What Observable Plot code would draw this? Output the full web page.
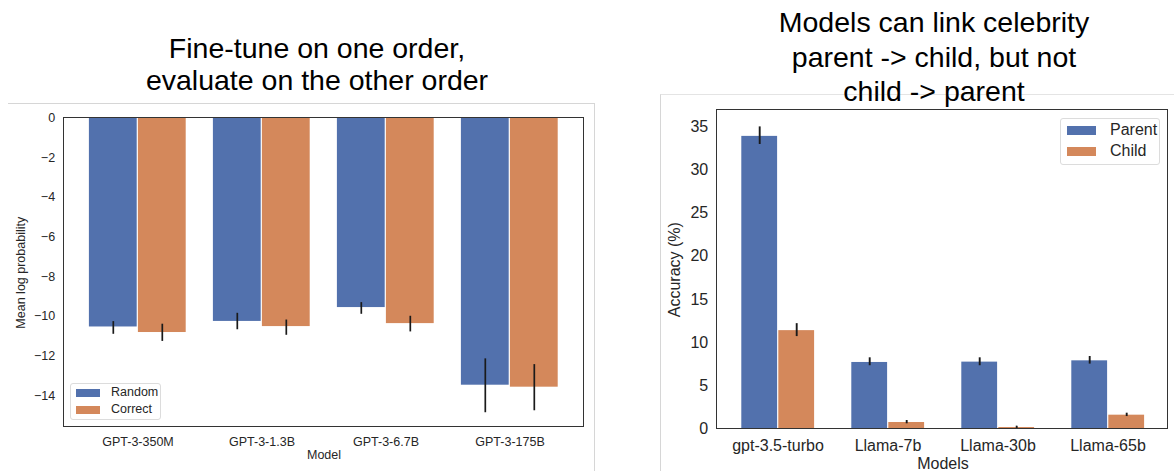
<!DOCTYPE html>
<html><head><meta charset="utf-8">
<script src="https://cdn.jsdelivr.net/npm/d3@7"></script>
<script src="https://cdn.jsdelivr.net/npm/@observablehq/plot@0.6"></script>
<style>
body{margin:0;background:#fff;font-family:"Liberation Sans",Arial,sans-serif;}
#root{position:relative;width:1174px;height:471px;overflow:hidden;background:#fff;}
.abs{position:absolute;}
.title{position:absolute;text-align:center;font-size:28.5px;color:#000;white-space:nowrap;}
.legend{position:absolute;box-sizing:border-box;border:1px solid #dcdcdc;border-radius:3px;background:rgba(255,255,255,0.85);}
.legend .sw{position:absolute;}
.legend .lt{position:absolute;color:#262626;white-space:nowrap;line-height:1;}
.frame{position:absolute;box-sizing:border-box;border:1.3px solid #333;pointer-events:none;}
</style></head><body><div id="root"></div>
<script>
// ---- Left chart data ----
const leftModels = ["GPT-3-350M", "GPT-3-1.3B", "GPT-3-6.7B", "GPT-3-175B"];
const leftSeries = ["Random", "Correct"];
const randomMean = [-10.54, -10.26, -9.56, -13.48];
const randomLo   = [-10.91, -10.68, -9.90, -14.87];
const randomHi   = [-10.27, -9.85, -9.31, -12.15];
const correctMean = [-10.82, -10.52, -10.37, -13.58];
const correctLo   = [-11.27, -10.96, -10.79, -14.77];
const correctHi   = [-10.40, -10.19, -10.00, -12.44];
const leftTicks = [0, -2, -4, -6, -8, -10, -12, -14];

// ---- Right chart data ----
const rightModels = ["gpt-3.5-turbo", "Llama-7b", "Llama-30b", "Llama-65b"];
const rightSeries = ["Parent", "Child"];
const parentAcc = [33.9, 7.69, 7.73, 7.88];
const parentLo  = [32.96, 7.31, 7.31, 7.50];
const parentHi  = [35.0, 8.23, 8.23, 8.38];
const childAcc  = [11.38, 0.73, 0.15, 1.58];
const childLo   = [10.69, 0.58, 0.04, 1.42];
const childHi   = [12.19, 0.96, 0.31, 1.81];
const rightTicks = [0, 5, 10, 15, 20, 25, 30, 35];

const BLUE = "#5271ad", ORANGE = "#d4885b";

const leftData = [];
leftModels.forEach((m, i) => {
  leftData.push({model: m, series: "Random", value: randomMean[i], lo: randomLo[i], hi: randomHi[i]});
  leftData.push({model: m, series: "Correct", value: correctMean[i], lo: correctLo[i], hi: correctHi[i]});
});
const rightData = [];
rightModels.forEach((m, i) => {
  rightData.push({model: m, series: "Parent", value: parentAcc[i], lo: parentLo[i], hi: parentHi[i]});
  rightData.push({model: m, series: "Child", value: childAcc[i], lo: childLo[i], hi: childHi[i]});
});

const root = document.getElementById("root");
function place(el, x, y) { el.style.position = "absolute"; el.style.left = x + "px"; el.style.top = y + "px"; root.appendChild(el); return el; }
function div(cls, css, html) { const d = document.createElement("div"); if (cls) d.className = cls; Object.assign(d.style, css); if (html != null) d.innerHTML = html; root.appendChild(d); return d; }
function frameBox(x0, y0, x1, y1) {
  div("frame", {left: (x0 - 0.65) + "px", top: (y0 - 0.65) + "px", width: (x1 - x0 + 1.3) + "px", height: (y1 - y0 + 1.3) + "px"});
}

// outer light boxes
div("abs", {left: "8px", top: "103px", width: "586px", height: "400px", borderTop: "1px solid #d6d6d6", borderRight: "1px solid #d6d6d6"});
div("abs", {left: "660px", top: "94px", width: "530px", height: "400px", borderTop: "1px solid #e4e4e4", borderLeft: "1px solid #d6d6d6"});

// ---- Left plot ----
// axes frame (drawn box) and facet extent (bars) in page pixels
const LF = {x0: 63.3, x1: 583, y0: 117.7, y1: 426.7};
const LG = {x0: 87.7, x1: 559};
const L = {x: 0, y: 95, w: 600, h: 376};
const left = Plot.plot({
  width: L.w, height: L.h,
  marginLeft: LG.x0 - L.x, marginRight: L.x + L.w - LG.x1, marginTop: LF.y0 - L.y, marginBottom: L.y + L.h - LF.y1,
  style: {fontFamily: "Liberation Sans, Arial, sans-serif", fontSize: "12.5px", color: "#262626", background: "transparent"},
  fx: {domain: leftModels, paddingInner: 0.2, paddingOuter: 0, axis: "bottom", label: "Model", labelAnchor: "center", labelOffset: 32, tickSize: 0, tickPadding: 10},
  x: {domain: leftSeries, axis: null, padding: 0},
  y: {domain: [-15.6, 0], ticks: leftTicks, tickSize: 0, tickPadding: 9 + (LG.x0 - LF.x0), label: "Mean log probability", labelArrow: "none", labelAnchor: "center", labelOffset: 72},
  color: {domain: leftSeries, range: [BLUE, ORANGE]},
  marks: [
    Plot.barY(leftData, {fx: "model", x: "series", y: "value", fill: "series", insetLeft: 0.6, insetRight: 0.6}),
    Plot.ruleX(leftData, {fx: "model", x: "series", y1: "lo", y2: "hi", stroke: "#1a1a1a", strokeWidth: 1.7})
  ]
});
place(left, L.x, L.y);
frameBox(LF.x0, LF.y0, LF.x1, LF.y1);

// ---- Right plot ----
const RF = {x0: 716.7, x1: 1167.3, y0: 110, y1: 428.3};
const RG = {x0: 738.3, x1: 1145.8};
const R = {x: 600, y: 80, w: 574, h: 391};
const right = Plot.plot({
  width: R.w, height: R.h,
  marginLeft: RG.x0 - R.x, marginRight: R.x + R.w - RG.x1, marginTop: RF.y0 - R.y, marginBottom: R.y + R.h - RF.y1,
  style: {fontFamily: "Liberation Sans, Arial, sans-serif", fontSize: "16px", color: "#262626", background: "transparent"},
  fx: {domain: rightModels, paddingInner: 0.32, paddingOuter: 0, axis: "bottom", label: "Models", labelAnchor: "center", labelOffset: 40, tickSize: 0, tickPadding: 11},
  x: {domain: rightSeries, axis: null, padding: 0},
  y: {domain: [0, 36.9], ticks: rightTicks, tickSize: 0, tickPadding: 10.7 + (RG.x0 - RF.x0), label: "Accuracy (%)", labelArrow: "none", labelAnchor: "center", labelOffset: 72},
  color: {domain: rightSeries, range: [BLUE, ORANGE]},
  marks: [
    Plot.barY(rightData, {fx: "model", x: "series", y: "value", fill: "series", insetLeft: 0.6, insetRight: 0.6}),
    Plot.ruleX(rightData, {fx: "model", x: "series", y1: "lo", y2: "hi", stroke: "#1a1a1a", strokeWidth: 1.9})
  ]
});
place(right, R.x, R.y);
frameBox(RF.x0, RF.y0, RF.x1, RF.y1);

// ---- Titles ----
div("title", {left: "117px", width: "400px", top: "32px", lineHeight: "32px"}, "Fine-tune on one order,<br>evaluate on the other order");
div("title", {left: "734px", width: "400px", top: "5px", lineHeight: "34.5px"}, "Models can link celebrity<br>parent -&gt; child, but not<br>child -&gt; parent");

// ---- Legends ----
function legend(x, y, w, h, items, colors, swx, sww, swh, rowYs, tx, fs) {
  const lg = div("legend", {left: x + "px", top: y + "px", width: w + "px", height: h + "px"});
  items.forEach((name, i) => {
    const sw = document.createElement("div"); sw.className = "sw";
    Object.assign(sw.style, {left: swx + "px", top: (rowYs[i] - swh / 2) + "px", width: sww + "px", height: swh + "px", background: colors[i]});
    lg.appendChild(sw);
    const t = document.createElement("div"); t.className = "lt"; t.textContent = name;
    Object.assign(t.style, {left: tx + "px", top: (rowYs[i] - fs * 0.55) + "px", fontSize: fs + "px"});
    lg.appendChild(t);
  });
}
legend(70, 382.7, 91, 37.5, leftSeries, [BLUE, ORANGE], 5, 24, 8, [9, 26.3], 40, 12.5);
legend(1059.7, 117.7, 100, 47.3, rightSeries, [BLUE, ORANGE], 6.5, 29, 9, [12.3, 33.3], 49.3, 16);
</script>
</body></html>
